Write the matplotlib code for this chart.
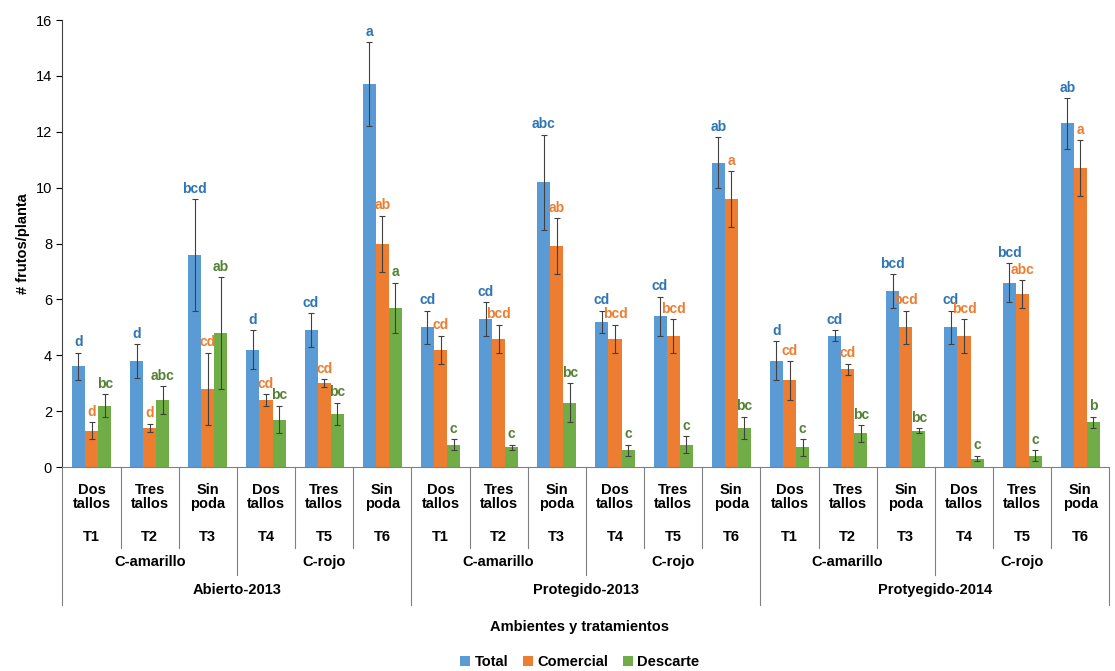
import matplotlib
matplotlib.use("Agg")
import matplotlib.pyplot as plt
import numpy as np

plt.rcParams["font.family"] = ["Liberation Sans", "DejaVu Sans"]

pods = ["Dos\ntallos", "Tres\ntallos", "Sin\npoda"] * 6
trts = ["T1", "T2", "T3", "T4", "T5", "T6"] * 3
subgroups = ["C-amarillo", "C-rojo"] * 3
envs = ["Abierto-2013", "Protegido-2013", "Protyegido-2014"]

total = [3.6, 3.8, 7.6, 4.2, 4.9, 13.7, 5.0, 5.3, 10.2, 5.2, 5.4, 10.9, 3.8, 4.7, 6.3, 5.0, 6.6, 12.3]
total_err = [0.5, 0.6, 2.0, 0.7, 0.6, 1.5, 0.6, 0.6, 1.7, 0.4, 0.7, 0.9, 0.7, 0.2, 0.6, 0.6, 0.7, 0.9]
comercial = [1.3, 1.4, 2.8, 2.4, 3.0, 8.0, 4.2, 4.6, 7.9, 4.6, 4.7, 9.6, 3.1, 3.5, 5.0, 4.7, 6.2, 10.7]
comercial_err = [0.3, 0.15, 1.3, 0.2, 0.15, 1.0, 0.5, 0.5, 1.0, 0.5, 0.6, 1.0, 0.7, 0.2, 0.6, 0.6, 0.5, 1.0]
descarte = [2.2, 2.4, 4.8, 1.7, 1.9, 5.7, 0.8, 0.7, 2.3, 0.6, 0.8, 1.4, 0.7, 1.2, 1.3, 0.3, 0.4, 1.6]
descarte_err = [0.4, 0.5, 2.0, 0.5, 0.4, 0.9, 0.2, 0.1, 0.7, 0.2, 0.3, 0.4, 0.3, 0.3, 0.1, 0.1, 0.2, 0.2]
total_lbl = ["d", "d", "bcd", "d", "cd", "a", "cd", "cd", "abc", "cd", "cd", "ab", "d", "cd", "bcd", "cd", "bcd", "ab"]
comercial_lbl = ["d", "d", "cd", "cd", "cd", "ab", "cd", "bcd", "ab", "bcd", "bcd", "a", "cd", "cd", "bcd", "bcd", "abc", "a"]
descarte_lbl = ["bc", "abc", "ab", "bc", "bc", "a", "c", "c", "bc", "c", "c", "bc", "c", "bc", "bc", "c", "c", "b"]

fig = plt.figure(figsize=(11.15, 6.71), dpi=100)
ax = fig.add_axes([0.056, 0.304, 0.939, 0.666])
x = np.arange(len(total))
w = 0.225
series = [
    (total, total_err, total_lbl, "#5B9BD5", "#2E75B6", "Total"),
    (comercial, comercial_err, comercial_lbl, "#ED7D31", "#ED7D31", "Comercial"),
    (descarte, descarte_err, descarte_lbl, "#70AD47", "#548235", "Descarte"),
]
for k, (v, e, lb, c, tc, name) in enumerate(series):
    xs = x + (k - 1) * w
    ax.bar(xs, v, w, color=c, label=name, yerr=e, capsize=2.5,
           error_kw=dict(ecolor="#404040", elinewidth=0.8, capthick=0.8))
    for xi, vi, ei, li in zip(xs, v, e, lb):
        ax.text(xi, vi + ei + 0.12, li, color=tc, ha="center", va="bottom",
                fontsize=10, fontweight="bold")

ax.set_xlim(-0.5, 17.5)
ax.set_ylim(0, 16)
ax.set_yticks(range(0, 17, 2))
ax.tick_params(axis="y", labelsize=10.5, length=4)
ax.set_xticks([])
for s in ["top", "right"]:
    ax.spines[s].set_visible(False)
ax.spines["bottom"].set_color("#808080")
ax.spines["left"].set_color("#404040")
ax.set_ylabel("# frutos/planta", fontsize=10.5, fontweight="bold")

tr = ax.get_xaxis_transform()
def fy(py):
    return (671 - py - 0.304 * 671) / (0.666 * 671)

for i in range(18):
    ax.text(i, fy(497), pods[i], transform=tr, ha="center", va="center",
            fontsize=10.5, fontweight="bold", linespacing=1.0)
    ax.text(i, fy(537), trts[i], transform=tr, ha="center", va="center",
            fontsize=10.5, fontweight="bold")
for j in range(6):
    ax.text(3 * j + 1, fy(562), subgroups[j], transform=tr, ha="center",
            va="center", fontsize=10.5, fontweight="bold")
for j in range(3):
    ax.text(6 * j + 2.5, fy(590), envs[j], transform=tr, ha="center",
            va="center", fontsize=10.5, fontweight="bold")
for b in range(19):
    xb = b - 0.5
    end = 548
    if b % 3 == 0:
        end = 575
    if b % 6 == 0:
        end = 605
    ax.plot([xb, xb], [0, fy(end)], transform=tr, color="#808080",
            lw=0.8, clip_on=False)

fig.text(0.52, 1 - 627 / 671, "Ambientes y tratamientos", ha="center",
         va="center", fontsize=10.5, fontweight="bold")
fig.legend(loc="center", bbox_to_anchor=(0.52, 1 - 662 / 671), ncol=3,
           frameon=False, prop={"weight": "bold", "size": 10.5},
           handlelength=0.7, handleheight=0.7, columnspacing=1.0,
           handletextpad=0.3)
fig.savefig("out.png")
